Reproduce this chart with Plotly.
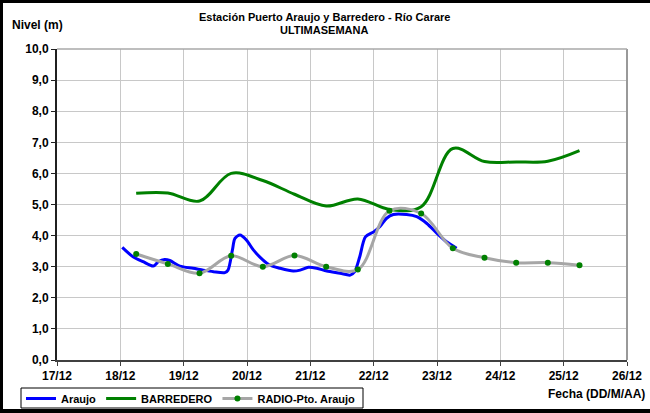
import plotly.graph_objects as go

# ---- Data ----
dias = [17, 18, 19, 20, 21, 22, 23, 24, 25, 26]
etiquetas_x = ["17/12", "18/12", "19/12", "20/12", "21/12", "22/12", "23/12", "24/12", "25/12", "26/12"]
niveles = [0, 1, 2, 3, 4, 5, 6, 7, 8, 9, 10]
etiquetas_y = ["0,0", "1,0", "2,0", "3,0", "4,0", "5,0", "6,0", "7,0", "8,0", "9,0", "10,0"]

# Araujo (dense record), time in fractional days of December
araujo_t = [18.03, 18.20, 18.36, 18.52, 18.60, 18.70, 18.78, 18.94, 19.15, 19.31,
            19.47, 19.65, 19.70, 19.77, 19.81, 19.89, 19.99, 20.10, 20.25, 20.36,
            20.52, 20.73, 20.84, 20.97, 21.10, 21.26, 21.47, 21.63, 21.70, 21.78,
            21.87, 22.00, 22.10, 22.20, 22.31, 22.52, 22.68, 22.84, 23.00, 23.15, 23.31]
araujo_v = [3.62, 3.32, 3.16, 3.02, 3.16, 3.23, 3.20, 3.02, 2.95, 2.89,
            2.84, 2.81, 2.89, 3.54, 3.91, 4.02, 3.86, 3.54, 3.22, 3.05,
            2.95, 2.86, 2.89, 2.98, 2.95, 2.86, 2.79, 2.73, 2.84, 3.32,
            3.96, 4.12, 4.29, 4.55, 4.68, 4.68, 4.61, 4.39, 4.07, 3.80, 3.59]

# Twice-daily readings
t_12h = [18.25, 18.75, 19.25, 19.75, 20.25, 20.75, 21.25, 21.75,
         22.25, 22.75, 23.25, 23.75, 24.25, 24.75, 25.25]
barredero_v = [5.36, 5.37, 5.11, 6.00, 5.77, 5.33, 4.95, 5.18,
               4.84, 4.93, 6.80, 6.38, 6.37, 6.39, 6.73]
radio_v = [3.41, 3.09, 2.79, 3.35, 3.00, 3.36, 3.00, 2.91,
           4.80, 4.71, 3.59, 3.29, 3.13, 3.13, 3.05]

# ---- Layout geometry (pixels) ----
W, H = 650, 413
L, R, T, B = 57, 23, 49, 53
pw, ph = W - L - R, H - T - B


def px_x(p):
    return (p - L) / pw


def px_y(p):
    return (H - B - p) / ph


FONT = "Liberation Sans, Arial, sans-serif"

fig = go.Figure()
fig.add_trace(go.Scatter(
    x=araujo_t, y=araujo_v, name="Araujo", mode="lines",
    line=dict(color="#0000FF", width=3, shape="spline", smoothing=0.8),
))
fig.add_trace(go.Scatter(
    x=t_12h, y=barredero_v, name="BARREDERO", mode="lines",
    line=dict(color="#008000", width=3, shape="spline", smoothing=1.0),
))
fig.add_trace(go.Scatter(
    x=t_12h, y=radio_v, name="RADIO-Pto. Araujo", mode="lines+markers",
    line=dict(color="#A6A6A6", width=3, shape="spline", smoothing=1.0),
    marker=dict(color="#008000", size=6),
))

axis_font = dict(family=FONT, size=12, color="black", weight="bold")

fig.update_layout(
    width=W, height=H,
    margin=dict(l=L, r=R, t=T, b=B, autoexpand=False),
    paper_bgcolor="white", plot_bgcolor="white",
    showlegend=True,
    legend=dict(
        orientation="h", x=px_x(21), y=px_y(384), xanchor="left", yanchor="top",
        bgcolor="rgba(0,0,0,0)", borderwidth=0,
        font=dict(family=FONT, size=11, color="black", weight="bold"),
        itemwidth=30, tracegroupgap=0,
    ),
    xaxis=dict(
        range=[17, 26], tickvals=dias, ticktext=etiquetas_x,
        showgrid=True, gridcolor="#C8C8C8", gridwidth=1,
        showline=True, linecolor="#404040", linewidth=1.5,
        ticks="outside", ticklen=4, tickcolor="#404040",
        tickfont=axis_font, zeroline=False, automargin=False,
    ),
    yaxis=dict(
        range=[0, 10], tickvals=niveles, ticktext=etiquetas_y,
        showgrid=True, gridcolor="#C8C8C8", gridwidth=1,
        showline=True, linecolor="#202020", linewidth=2,
        ticks="outside", ticklen=4, tickcolor="#202020",
        tickfont=axis_font, zeroline=False, automargin=False,
    ),
)

# Legend frame
fig.add_shape(type="rect", xref="paper", yref="paper",
              x0=px_x(21), x1=px_x(363), y0=px_y(408), y1=px_y(388),
              line=dict(color="black", width=1), fillcolor="white", layer="below")

# Plot area right/top edges
fig.add_shape(type="line", xref="paper", yref="paper", x0=1, x1=1, y0=0, y1=1,
              line=dict(color="#999999", width=2))
fig.add_shape(type="line", xref="paper", yref="paper", x0=0, x1=1, y0=1, y1=1,
              line=dict(color="#A8A8A8", width=1.5))

# Outer black frame (left, top, bottom)
fig.add_shape(type="line", xref="paper", yref="paper",
              x0=px_x(1.5), x1=px_x(1.5), y0=px_y(0), y1=px_y(413),
              line=dict(color="black", width=3))
fig.add_shape(type="line", xref="paper", yref="paper",
              x0=px_x(0), x1=px_x(650), y0=px_y(1.5), y1=px_y(1.5),
              line=dict(color="black", width=3))
fig.add_shape(type="line", xref="paper", yref="paper",
              x0=px_x(0), x1=px_x(650), y0=px_y(411), y1=px_y(411),
              line=dict(color="black", width=4))

# Texts
fig.add_annotation(text="Estación Puerto Araujo y Barredero - Río Carare",
                   xref="paper", yref="paper", x=px_x(324), y=px_y(17),
                   xanchor="center", yanchor="middle", showarrow=False,
                   font=dict(family=FONT, size=11, color="black", weight="bold"))
fig.add_annotation(text="ULTIMASEMANA",
                   xref="paper", yref="paper", x=px_x(324), y=px_y(30),
                   xanchor="center", yanchor="middle", showarrow=False,
                   font=dict(family=FONT, size=11, color="black", weight="bold"))
fig.add_annotation(text="Nivel (m)",
                   xref="paper", yref="paper", x=px_x(10), y=px_y(25),
                   xanchor="left", yanchor="middle", showarrow=False,
                   font=dict(family=FONT, size=12, color="black", weight="bold"))
fig.add_annotation(text="Fecha (DD/M/AA)",
                   xref="paper", yref="paper", x=px_x(647), y=px_y(394),
                   xanchor="right", yanchor="middle", showarrow=False,
                   font=dict(family=FONT, size=12, color="black", weight="bold"))

fig.write_html(
    "out.html",
    config={"displayModeBar": False},
    post_script="document.body.style.margin='0';document.body.style.overflow='hidden';",
)
